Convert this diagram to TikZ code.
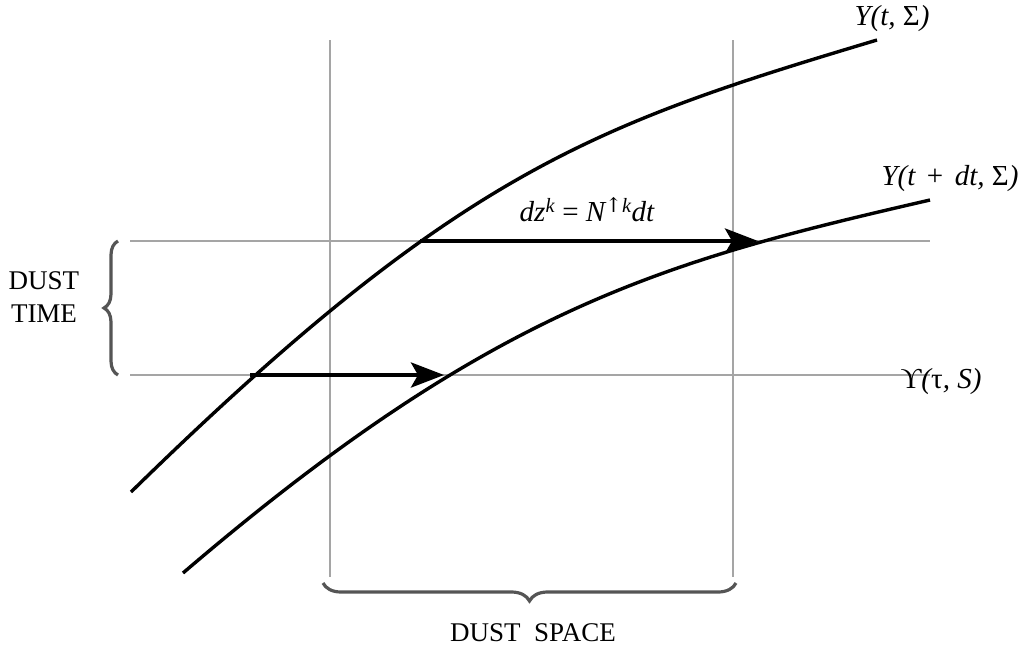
\documentclass[tikz,border=0pt]{standalone}
\usepackage{fontspec}
\setmainfont{Liberation Serif}
\newfontfamily\arrowfont{DejaVu Serif}
\usetikzlibrary{arrows.meta,decorations.pathreplacing}
\definecolor{gridgray}{RGB}{165,165,165}
\definecolor{bracegray}{RGB}{85,85,85}
\tikzset{
  gridline/.style={draw=gridgray,line width=2.2pt},
  curveline/.style={draw=black,line width=3.4pt},
  motion/.style={draw=black,line width=4.2pt,-{Stealth[length=33pt,width=25pt,inset=7pt]}},
  bracestyle/.style={draw=bracegray,line width=3.2pt,decorate},
  lbl/.style={font=\fontsize{29}{34}\selectfont,inner sep=0pt},
}
\begin{document}
\begin{tikzpicture}[x=1pt,y=-1pt]
\useasboundingbox (0,0) rectangle (1028,649);
% grid
\draw[gridline] (130,241) -- (930,241);
\draw[gridline] (130,375) -- (930,375);
\draw[gridline] (330,40) -- (330,577);
\draw[gridline] (733,40) -- (733,577);
% curves
\draw[curveline] (131,492) .. controls (461,169) and (597,124) .. (877,40);
\draw[curveline] (183,573) .. controls (495,306) and (665,261) .. (930,200);
% arrows
\coordinate (a1s) at (250,375);
\coordinate (a1e) at (444,375);
\coordinate (a2s) at (420,241);
\coordinate (a2e) at (758,241);
\draw[motion] (a1s) -- (a1e);
\draw[motion] (a2s) -- (a2e);
% labels
\node[lbl] (ya) at (892,19) {\itshape Y(t, \upshape Σ\itshape )};
\node[lbl] (yb) at (950,179) {\itshape Y(t\hspace{0.4em}\upshape +\hspace{0.4em}\itshape dt, \upshape Σ\itshape )};
\node[lbl] (yc) at (941,382) {ϒ\itshape (\upshape τ\itshape , S)};
\node[lbl] (dz) at (587,210) {\itshape dz\textsuperscript{k} \upshape = \itshape N\textsuperscript{{\arrowfont\upshape ↑}\itshape k}dt};
% braces
\draw[bracestyle,decoration={brace,amplitude=14pt}] (118,375) -- (118,241);
\draw[bracestyle,decoration={brace,amplitude=18pt,mirror}] (323,583) -- (736,583);
\node[lbl,align=center,font=\fontsize{27}{33}\selectfont] (dt) at (44,297) {DUST\\TIME};
\node[lbl,font=\fontsize{27}{32}\selectfont] (ds) at (533,633) {DUST\ \ SPACE};
\end{tikzpicture}
\end{document}
